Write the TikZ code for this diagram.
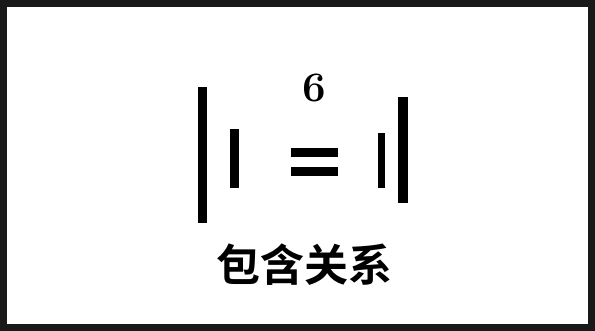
\documentclass[tikz,border=0pt]{standalone}
\usepackage{fontspec}
\newfontfamily\cjk{Noto Sans CJK SC Bold}
\begin{document}
\begin{tikzpicture}[x=1pt,y=-1pt,
  bar/.style={fill=black,draw=none}]
\useasboundingbox (0,0) rectangle (595,331);
\draw[line width=7pt,black!90] (3.5,3.5) rectangle (591.5,327.5);
% bars
\fill[bar] (198,87) rectangle (207,223);
\fill[bar] (230,129) rectangle (239,188);
\fill[bar] (291,148) rectangle (338,157);
\fill[bar] (291,167) rectangle (338,176);
\fill[bar] (378,133) rectangle (385,188);
\fill[bar] (398,97) rectangle (408,203);
\node[font=\fontsize{42}{42}\selectfont\bfseries, inner sep=0pt] (six) at (314,88) {6};
\node[font=\cjk\fontsize{44}{44}\selectfont, inner sep=0pt] (lbl) at (304,265) {包含关系};
\end{tikzpicture}
\end{document}
